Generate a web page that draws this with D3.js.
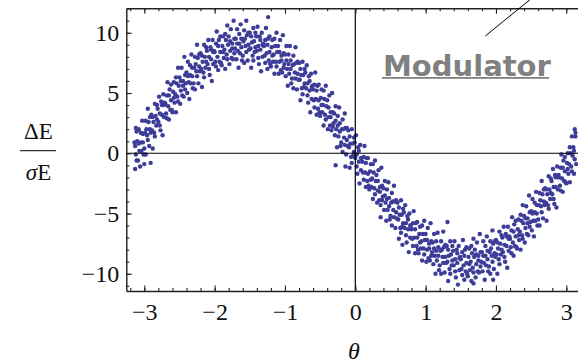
<!DOCTYPE html>
<html><head><meta charset="utf-8">
<script src="https://cdn.jsdelivr.net/npm/d3@7"></script>
<style>html,body{margin:0;padding:0;background:#fff;} svg{display:block;}</style>
</head><body>
<svg id="chart" width="578" height="364"></svg>
<script>
// ---- data ----
const theta = [
-3.14,-3.13,-3.13,-3.12,-3.11,-3.11,
-3.10,-3.09,-3.08,-3.08,-3.07,-3.06,-3.05,-3.05,-3.04,-3.03,-3.02,-3.02,-3.01,
-3.00,-2.99,-2.98,-2.98,-2.97,-2.96,-2.95,-2.95,-2.94,-2.93,-2.92,-2.92,-2.91,
-2.90,-2.89,-2.88,-2.88,-2.87,-2.86,-2.85,-2.85,-2.84,-2.83,-2.82,-2.82,-2.81,
-2.80,-2.79,-2.78,-2.78,-2.77,-2.76,-2.75,-2.75,-2.74,-2.73,-2.72,-2.72,-2.71,
-2.70,-2.69,-2.68,-2.68,-2.67,-2.66,-2.65,-2.65,-2.64,-2.63,-2.62,-2.62,-2.61,
-2.60,-2.59,-2.58,-2.58,-2.57,-2.56,-2.55,-2.55,-2.54,-2.53,-2.52,-2.52,-2.51,
-2.50,-2.49,-2.48,-2.48,-2.47,-2.46,-2.45,-2.45,-2.44,-2.43,-2.42,-2.42,-2.41,
-2.40,-2.39,-2.38,-2.38,-2.37,-2.36,-2.35,-2.35,-2.34,-2.33,-2.32,-2.32,-2.31,
-2.30,-2.29,-2.28,-2.28,-2.27,-2.26,-2.25,-2.25,-2.24,-2.23,-2.22,-2.22,-2.21,
-2.20,-2.19,-2.18,-2.18,-2.17,-2.16,-2.15,-2.15,-2.14,-2.13,-2.12,-2.12,-2.11,
-2.10,-2.09,-2.08,-2.08,-2.07,-2.06,-2.05,-2.05,-2.04,-2.03,-2.02,-2.02,-2.01,
-2.00,-1.99,-1.98,-1.98,-1.97,-1.96,-1.95,-1.95,-1.94,-1.93,-1.92,-1.92,-1.91,
-1.90,-1.89,-1.88,-1.88,-1.87,-1.86,-1.85,-1.85,-1.84,-1.83,-1.82,-1.82,-1.81,
-1.80,-1.79,-1.78,-1.78,-1.77,-1.76,-1.75,-1.75,-1.74,-1.73,-1.72,-1.72,-1.71,
-1.70,-1.69,-1.68,-1.68,-1.67,-1.66,-1.65,-1.65,-1.64,-1.63,-1.62,-1.62,-1.61,
-1.60,-1.59,-1.58,-1.58,-1.57,-1.56,-1.55,-1.55,-1.54,-1.53,-1.52,-1.52,-1.51,
-1.50,-1.49,-1.48,-1.48,-1.47,-1.46,-1.45,-1.45,-1.44,-1.43,-1.42,-1.42,-1.41,
-1.40,-1.39,-1.38,-1.38,-1.37,-1.36,-1.35,-1.35,-1.34,-1.33,-1.32,-1.32,-1.31,
-1.30,-1.29,-1.28,-1.28,-1.27,-1.26,-1.25,-1.25,-1.24,-1.23,-1.22,-1.22,-1.21,
-1.20,-1.19,-1.18,-1.18,-1.17,-1.16,-1.15,-1.15,-1.14,-1.13,-1.12,-1.12,-1.11,
-1.10,-1.09,-1.08,-1.08,-1.07,-1.06,-1.05,-1.05,-1.04,-1.03,-1.02,-1.02,-1.01,
-1.00,-0.99,-0.98,-0.98,-0.97,-0.96,-0.95,-0.95,-0.94,-0.93,-0.92,-0.92,-0.91,
-0.90,-0.89,-0.88,-0.88,-0.87,-0.86,-0.85,-0.85,-0.84,-0.83,-0.82,-0.82,-0.81,
-0.80,-0.79,-0.78,-0.78,-0.77,-0.76,-0.75,-0.75,-0.74,-0.73,-0.72,-0.72,-0.71,
-0.70,-0.69,-0.68,-0.68,-0.67,-0.66,-0.65,-0.65,-0.64,-0.63,-0.62,-0.62,-0.61,
-0.60,-0.59,-0.58,-0.58,-0.57,-0.56,-0.55,-0.55,-0.54,-0.53,-0.52,-0.52,-0.51,
-0.50,-0.49,-0.48,-0.48,-0.47,-0.46,-0.45,-0.45,-0.44,-0.43,-0.42,-0.42,-0.41,
-0.40,-0.39,-0.38,-0.38,-0.37,-0.36,-0.35,-0.35,-0.34,-0.33,-0.32,-0.32,-0.31,
-0.30,-0.29,-0.28,-0.28,-0.27,-0.26,-0.25,-0.25,-0.24,-0.23,-0.22,-0.22,-0.21,
-0.20,-0.19,-0.18,-0.18,-0.17,-0.16,-0.15,-0.15,-0.14,-0.13,-0.12,-0.12,-0.11,
-0.10,-0.09,-0.08,-0.08,-0.07,-0.06,-0.05,-0.05,-0.04,-0.03,-0.02,-0.02,-0.01,
0.00,0.01,0.02,0.02,0.03,0.04,0.05,0.05,0.06,0.07,0.08,0.08,0.09,
0.10,0.11,0.12,0.12,0.13,0.14,0.15,0.15,0.16,0.17,0.18,0.18,0.19,
0.20,0.21,0.22,0.22,0.23,0.24,0.25,0.25,0.26,0.27,0.28,0.28,0.29,
0.30,0.31,0.32,0.32,0.33,0.34,0.35,0.35,0.36,0.37,0.38,0.38,0.39,
0.40,0.41,0.42,0.42,0.43,0.44,0.45,0.45,0.46,0.47,0.48,0.48,0.49,
0.50,0.51,0.52,0.52,0.53,0.54,0.55,0.55,0.56,0.57,0.58,0.58,0.59,
0.60,0.61,0.62,0.62,0.63,0.64,0.65,0.65,0.66,0.67,0.68,0.68,0.69,
0.70,0.71,0.72,0.72,0.73,0.74,0.75,0.75,0.76,0.77,0.78,0.78,0.79,
0.80,0.81,0.82,0.82,0.83,0.84,0.85,0.85,0.86,0.87,0.88,0.88,0.89,
0.90,0.91,0.92,0.92,0.93,0.94,0.95,0.95,0.96,0.97,0.98,0.98,0.99,
1.00,1.01,1.02,1.02,1.03,1.04,1.05,1.05,1.06,1.07,1.08,1.08,1.09,
1.10,1.11,1.12,1.12,1.13,1.14,1.15,1.15,1.16,1.17,1.18,1.18,1.19,
1.20,1.21,1.22,1.22,1.23,1.24,1.25,1.25,1.26,1.27,1.28,1.28,1.29,
1.30,1.31,1.32,1.32,1.33,1.34,1.35,1.35,1.36,1.37,1.38,1.38,1.39,
1.40,1.41,1.42,1.42,1.43,1.44,1.45,1.45,1.46,1.47,1.48,1.48,1.49,
1.50,1.51,1.52,1.52,1.53,1.54,1.55,1.55,1.56,1.57,1.58,1.58,1.59,
1.60,1.61,1.62,1.62,1.63,1.64,1.65,1.65,1.66,1.67,1.68,1.68,1.69,
1.70,1.71,1.72,1.72,1.73,1.74,1.75,1.75,1.76,1.77,1.78,1.78,1.79,
1.80,1.81,1.82,1.82,1.83,1.84,1.85,1.85,1.86,1.87,1.88,1.88,1.89,
1.90,1.91,1.92,1.92,1.93,1.94,1.95,1.95,1.96,1.97,1.98,1.98,1.99,
2.00,2.01,2.02,2.02,2.03,2.04,2.05,2.05,2.06,2.07,2.08,2.08,2.09,
2.10,2.11,2.12,2.12,2.13,2.14,2.15,2.15,2.16,2.17,2.18,2.18,2.19,
2.20,2.21,2.22,2.22,2.23,2.24,2.25,2.25,2.26,2.27,2.28,2.28,2.29,
2.30,2.31,2.32,2.32,2.33,2.34,2.35,2.35,2.36,2.37,2.38,2.38,2.39,
2.40,2.41,2.42,2.42,2.43,2.44,2.45,2.45,2.46,2.47,2.48,2.48,2.49,
2.50,2.51,2.52,2.52,2.53,2.54,2.55,2.55,2.56,2.57,2.58,2.58,2.59,
2.60,2.61,2.62,2.62,2.63,2.64,2.65,2.65,2.66,2.67,2.68,2.68,2.69,
2.70,2.71,2.72,2.72,2.73,2.74,2.75,2.75,2.76,2.77,2.78,2.78,2.79,
2.80,2.81,2.82,2.82,2.83,2.84,2.85,2.85,2.86,2.87,2.88,2.88,2.89,
2.90,2.91,2.92,2.92,2.93,2.94,2.95,2.95,2.96,2.97,2.98,2.98,2.99,
3.00,3.01,3.02,3.02,3.03,3.04,3.05,3.05,3.06,3.07,3.08,3.08,3.09,
3.10,3.11,3.11,3.12,3.13,3.14,
-1.24,-0.28,-0.14,0.36,0.67,1.31,1.68,1.96,3.12,3.13,-3.00,-2.91,-3.12
];
const dE = [
0.9,-1.3,0.6,-0.1,1.8,-0.6,
1.0,-0.6,0.8,2.0,0.2,-1.1,1.7,0.9,0.2,2.7,0.9,1.6,-0.1,
0.4,1.7,2.7,-0.1,2.0,1.5,3.7,1.1,2.6,0.6,2.0,3.0,1.7,
3.2,1.9,0.4,3.0,2.6,1.7,4.1,1.4,3.1,2.3,4.0,2.8,3.7,
2.6,4.7,2.3,3.3,1.9,4.3,3.2,4.0,1.5,4.9,4.0,3.0,4.2,
4.1,3.3,4.8,2.9,5.9,3.9,2.8,4.8,5.3,3.6,4.4,5.7,3.6,
3.4,5.1,4.6,5.9,4.2,4.9,6.3,3.4,5.8,4.7,7.1,4.3,5.6,
6.3,4.1,6.0,5.2,7.1,4.8,6.0,5.6,4.7,8.0,5.3,6.5,5.8,
6.7,5.0,6.4,7.6,5.9,4.5,7.3,6.5,5.8,8.2,6.4,7.1,5.4,
5.8,7.1,8.0,5.3,7.4,6.8,9.0,6.4,7.9,5.8,7.2,8.2,6.8,
8.3,7.0,5.5,8.1,7.6,6.7,9.0,6.3,8.0,7.1,8.8,7.6,8.5,
7.4,9.4,7.0,8.0,6.5,8.8,7.8,8.6,6.0,9.4,8.4,7.4,8.5,
8.4,7.6,9.1,7.2,10.1,8.0,6.9,8.9,9.4,7.6,8.4,9.7,7.5,
7.3,8.9,8.4,9.7,7.9,8.6,9.9,7.0,9.4,8.2,10.6,7.8,9.0,
9.7,7.4,9.3,8.5,10.3,7.9,9.1,8.7,7.8,11.0,8.3,9.5,8.7,
9.5,7.8,9.1,10.3,8.5,7.1,9.9,9.1,8.3,10.7,8.8,9.5,7.7,
8.1,9.3,10.2,7.5,9.5,8.9,11.0,8.4,9.8,7.7,9.0,10.0,8.6,
10.0,8.7,7.1,9.7,9.2,8.1,10.4,7.7,9.3,8.4,10.0,8.8,9.7,
8.5,10.5,7.9,8.9,7.4,9.7,8.6,9.4,6.8,10.0,9.0,8.0,9.1,
8.9,8.1,9.4,7.5,10.4,8.3,7.0,9.0,9.5,7.7,8.4,9.7,7.4,
7.2,8.8,8.1,9.4,7.6,8.2,9.5,6.6,8.9,7.6,10.0,7.2,8.4,
8.9,6.6,8.4,7.6,9.4,6.9,8.1,7.7,6.7,9.8,7.1,8.3,7.4,
8.2,6.4,7.7,8.9,7.0,5.6,8.2,7.4,6.6,8.9,7.0,7.7,5.8,
6.2,7.3,8.1,5.4,7.4,6.7,8.8,6.2,7.5,5.3,6.6,7.6,6.1,
7.5,6.1,4.4,7.0,6.5,5.4,7.6,4.9,6.5,5.5,7.0,5.8,6.7,
5.4,7.3,4.8,5.8,4.2,6.4,5.2,6.0,3.4,6.6,5.5,4.5,5.6,
5.3,4.4,5.7,3.8,6.7,4.5,3.2,5.2,5.6,3.7,4.4,5.7,3.4,
3.1,4.6,4.0,5.3,3.4,4.0,5.2,2.3,4.5,3.2,5.6,2.8,3.9,
4.4,2.0,3.8,3.0,4.8,2.3,3.4,3.0,1.9,5.0,2.2,3.4,2.5,
3.3,1.5,2.7,3.9,2.0,0.5,3.1,2.3,1.4,3.8,1.8,2.5,0.6,
0.9,2.0,2.8,0.1,2.0,1.3,3.3,0.7,2.1,-0.1,1.1,2.1,0.6,
1.9,0.5,-1.2,1.4,0.8,-0.3,2.0,-0.8,0.8,-0.2,1.3,0.1,0.9,
-0.4,1.5,-1.1,-0.1,-1.7,0.5,-0.7,0.2,-2.5,0.7,-0.4,-1.4,-0.4,
-0.7,-1.6,-0.3,-2.2,0.6,-1.6,-2.8,-0.8,-0.4,-2.3,-1.7,-0.4,-2.7,
-3.0,-1.5,-2.2,-0.9,-2.8,-2.1,-0.9,-3.8,-1.6,-2.9,-0.6,-3.4,-2.3,
-1.8,-4.1,-2.3,-3.1,-1.4,-3.9,-2.8,-3.2,-4.3,-1.2,-3.9,-2.7,-3.6,
-2.9,-4.7,-3.5,-2.3,-4.1,-5.6,-3.0,-3.8,-4.7,-2.4,-4.4,-3.7,-5.5,
-5.2,-4.1,-3.3,-6.0,-4.0,-4.7,-2.7,-5.3,-4.0,-6.2,-4.9,-3.9,-5.4,
-4.1,-5.5,-7.1,-4.5,-5.1,-6.2,-3.9,-6.6,-5.1,-6.1,-4.6,-5.8,-4.9,
-6.2,-4.3,-6.8,-5.8,-7.4,-5.2,-6.3,-5.5,-8.2,-5.0,-6.0,-7.0,-6.0,
-6.3,-7.1,-5.8,-7.7,-4.8,-7.0,-8.3,-6.3,-5.8,-7.7,-7.0,-5.7,-8.0,
-8.3,-6.7,-7.4,-6.1,-7.9,-7.3,-6.0,-8.9,-6.7,-7.9,-5.6,-8.4,-7.2,
-6.7,-9.0,-7.2,-8.0,-6.2,-8.7,-7.5,-7.9,-8.9,-5.8,-8.5,-7.3,-8.2,
-7.4,-9.2,-7.9,-6.7,-8.5,-10.0,-7.3,-8.1,-8.9,-6.6,-8.5,-7.8,-9.7,
-9.3,-8.1,-7.3,-10.0,-8.0,-8.6,-6.5,-9.1,-7.8,-9.9,-8.6,-7.6,-9.1,
-7.7,-9.0,-10.6,-8.0,-8.5,-9.6,-7.3,-10.0,-8.4,-9.3,-7.7,-8.9,-8.1,
-9.3,-7.3,-9.8,-8.8,-10.3,-8.0,-9.1,-8.3,-10.9,-7.7,-8.7,-9.7,-8.6,
-8.8,-9.6,-8.2,-10.1,-7.2,-9.3,-10.5,-8.5,-8.0,-9.8,-9.1,-7.8,-10.0,
-10.2,-8.6,-9.2,-7.9,-9.7,-9.0,-7.7,-10.6,-8.3,-9.5,-7.1,-9.9,-8.6,
-8.0,-10.3,-8.4,-9.2,-7.4,-9.8,-8.5,-8.9,-9.9,-6.7,-9.4,-8.2,-9.0,
-8.2,-9.8,-8.5,-7.3,-9.1,-10.5,-7.7,-8.5,-9.3,-6.9,-8.8,-8.1,-9.8,
-9.4,-8.2,-7.3,-10.0,-7.9,-8.5,-6.4,-9.0,-7.5,-9.6,-8.3,-7.3,-8.6,
-7.2,-8.4,-10.0,-7.4,-7.9,-8.8,-6.5,-9.2,-7.5,-8.4,-6.8,-8.0,-7.0,
-8.2,-6.1,-8.6,-7.6,-9.0,-6.7,-7.7,-6.9,-9.5,-6.1,-7.1,-8.1,-6.9,
-7.1,-7.8,-6.4,-8.3,-5.3,-7.4,-8.5,-6.5,-5.9,-7.7,-6.9,-5.6,-7.8,
-7.9,-6.3,-6.8,-5.5,-7.2,-6.5,-5.1,-8.0,-5.6,-6.8,-4.3,-7.1,-5.8,
-5.2,-7.4,-5.4,-6.2,-4.4,-6.7,-5.4,-5.8,-6.8,-3.5,-6.1,-4.9,-5.7,
-4.8,-6.4,-5.0,-3.8,-5.6,-6.9,-4.1,-4.9,-5.6,-3.2,-5.0,-4.3,-6.0,
-5.5,-4.3,-3.3,-6.0,-3.9,-4.4,-2.3,-4.9,-3.4,-5.4,-4.0,-3.0,-4.3,
-2.9,-4.1,-5.6,-3.0,-3.4,-4.3,-1.9,-4.6,-3.0,-3.8,-2.1,-3.3,-2.3,
-3.4,-1.3,-3.8,-2.8,-4.2,-1.8,-2.8,-2.0,-4.5,-1.1,-2.0,-3.0,-1.8,
-2.0,-2.7,-1.2,-3.1,-0.1,-2.1,-3.2,-1.2,-0.6,-2.3,-1.5,-0.3,-2.4,
-2.5,-0.8,-1.3,0.0,-1.7,-0.9,0.5,-2.4,0.0,-1.1,1.4,-1.5,-0.2,
0.5,-1.7,0.2,-0.5,1.4,-0.9,
11.3,-1.0,-1.1,-5.3,-7.6,-5.7,-10.8,-10.5,2.0,1.7,-0.9,-0.8,2.1
];
const xTickValues = [-3, -2, -1, 0, 1, 2, 3];
const yTickValues = [-10, -5, 0, 5, 10];
const xMinorTicks = d3.range(-32, 33, 2).map(v => v / 10);
const yMinorTicks = d3.range(-11, 13, 1);
const xLabel = "\u03B8";
const yLabelTop = "\u0394E";
const yLabelBottom = ["\u03C3", "E"];
const annotation = "Modulator";

// ---- layout ----
const W = 578, H = 364;
const x = d3.scaleLinear().domain([-3.256, 3.256]).range([126.3, 584.3]);
const y = d3.scaleLinear().domain([-11.43, 12.03]).range([291, 8.3]);
const svg = d3.select("#chart");
svg.append("rect").attr("width", W).attr("height", H).attr("fill", "#fff");

const serif = "'Liberation Serif','Times New Roman',serif";
const frameColor = "#222";
const intFmt = d3.format("d");

// points
const n = Math.min(theta.length, dE.length);
const pts = d3.range(n).map(i => ({ t: theta[i], v: dE[i] }));
svg.append("g").selectAll("circle").data(pts).join("circle")
  .attr("cx", d => x(d.t)).attr("cy", d => y(d.v))
  .attr("r", 2.2).attr("fill", "#3d3d99");

// axes lines through origin
svg.append("line").attr("x1", x.range()[0]).attr("x2", x.range()[1])
  .attr("y1", y(0)).attr("y2", y(0)).attr("stroke", "#000").attr("stroke-width", 1.2);
svg.append("line").attr("x1", x(0)).attr("x2", x(0))
  .attr("y1", y.range()[0]).attr("y2", y.range()[1]).attr("stroke", "#000").attr("stroke-width", 1.2);

function styleAxis(g) {
  g.selectAll("path.domain").attr("stroke", frameColor).attr("stroke-width", 1.4);
  g.selectAll(".tick line").attr("stroke", frameColor).attr("stroke-width", 1.1);
}

// bottom frame: minor then major with labels
svg.append("g").attr("transform", `translate(0,${y.range()[0]})`)
  .call(d3.axisBottom(x).tickValues(xMinorTicks).tickSize(-3).tickSizeOuter(0).tickFormat(""))
  .call(styleAxis);
const bx = svg.append("g").attr("transform", `translate(0,${y.range()[0]})`)
  .call(d3.axisBottom(x).tickValues(xTickValues).tickSize(-5.5).tickSizeOuter(0).tickPadding(12).tickFormat(intFmt))
  .call(styleAxis);
bx.selectAll("path.domain").remove();
bx.selectAll("text").attr("font-family", serif).attr("font-size", 24).attr("fill", "#111");

// top frame
svg.append("g").attr("transform", `translate(0,${y.range()[1]})`)
  .call(d3.axisTop(x).tickValues(xMinorTicks).tickSize(-3).tickSizeOuter(0).tickFormat(""))
  .call(styleAxis);
const tx = svg.append("g").attr("transform", `translate(0,${y.range()[1]})`)
  .call(d3.axisTop(x).tickValues(xTickValues).tickSize(-5.5).tickSizeOuter(0).tickFormat(""))
  .call(styleAxis);
tx.selectAll("path.domain").remove();

// left frame
svg.append("g").attr("transform", `translate(${x.range()[0]},0)`)
  .call(d3.axisLeft(y).tickValues(yMinorTicks).tickSize(-3).tickSizeOuter(0).tickFormat(""))
  .call(styleAxis);
const ly = svg.append("g").attr("transform", `translate(${x.range()[0]},0)`)
  .call(d3.axisLeft(y).tickValues(yTickValues).tickSize(-5.5).tickSizeOuter(0).tickPadding(7).tickFormat(intFmt))
  .call(styleAxis);
ly.selectAll("path.domain").remove();
ly.selectAll("text").attr("font-family", serif).attr("font-size", 24).attr("fill", "#111");

// right frame (just outside view)
svg.append("g").attr("transform", `translate(${x.range()[1]},0)`)
  .call(d3.axisRight(y).tickValues(yMinorTicks).tickSize(-3).tickSizeOuter(0).tickFormat(""))
  .call(styleAxis);

// axis labels
svg.append("text").attr("x", 354).attr("y", 359).attr("text-anchor", "middle")
  .attr("font-family", serif).attr("font-style", "italic").attr("font-size", 24)
  .attr("fill", "#111").text(xLabel);

svg.append("text").attr("x", 38.5).attr("y", 139).attr("text-anchor", "middle")
  .attr("font-family", serif).attr("font-size", 23).attr("fill", "#111").text(yLabelTop);
svg.append("line").attr("x1", 20).attr("x2", 56).attr("y1", 150.7).attr("y2", 150.7)
  .attr("stroke", "#333").attr("stroke-width", 1.3);
const den = svg.append("text").attr("x", 38.5).attr("y", 180).attr("text-anchor", "middle")
  .attr("font-family", serif).attr("font-size", 23).attr("fill", "#111");
den.append("tspan").attr("font-style", "italic").text(yLabelBottom[0]);
den.append("tspan").text(yLabelBottom[1]);

// annotation
svg.append("line").attr("x1", 485.3).attr("y1", 36).attr("x2", 532).attr("y2", -2)
  .attr("stroke", "#000").attr("stroke-width", 1);
svg.append("text").attr("x", 383).attr("y", 76)
  .attr("font-family", "'DejaVu Sans',Verdana,sans-serif").attr("font-weight", "bold")
  .attr("font-size", 29).attr("fill", "#808080").text(annotation);
svg.append("rect").attr("x", 382).attr("y", 77).attr("width", 167).attr("height", 1.8)
  .attr("fill", "#808080");
</script>
</body></html>
